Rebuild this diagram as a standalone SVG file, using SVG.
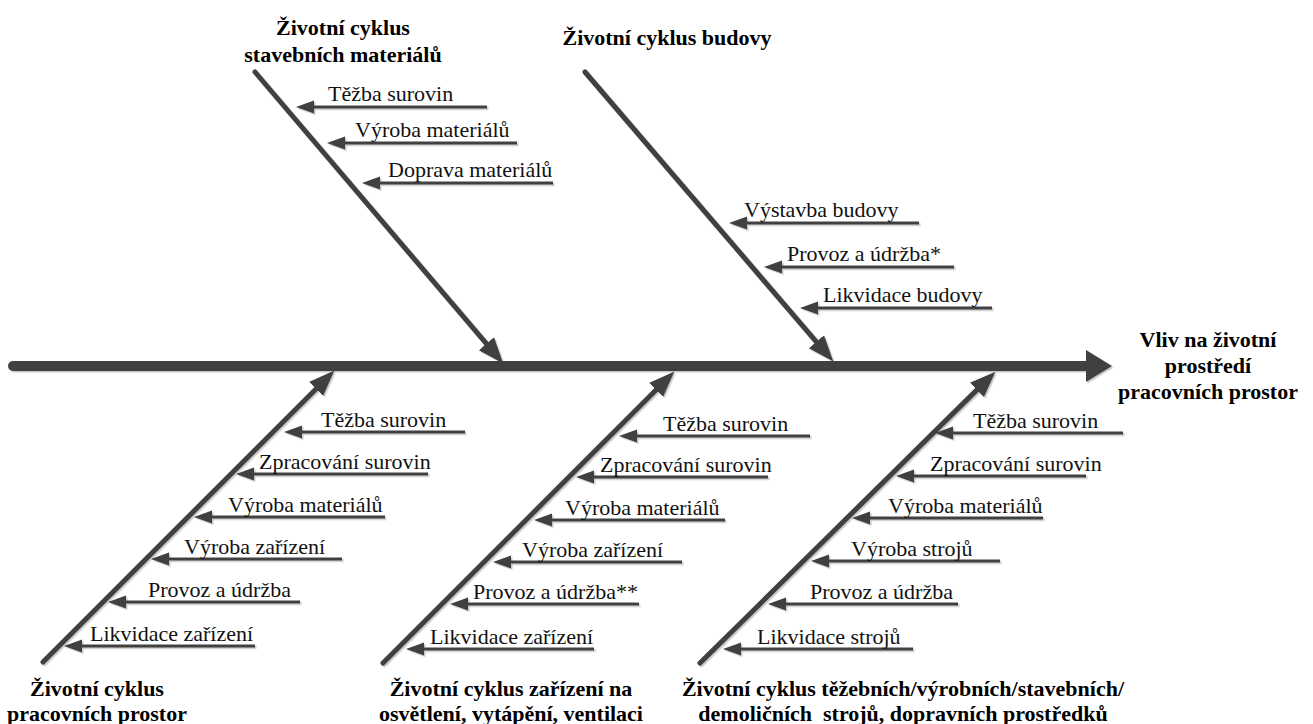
<svg xmlns="http://www.w3.org/2000/svg" width="1313" height="724" viewBox="0 0 1313 724">
  <style>
    .lbl { font-family: "Liberation Serif", "DejaVu Serif", "Noto Serif", "Times New Roman", serif; font-size: 22px; fill: #111; }
    .ttl { font-family: "Liberation Serif", "DejaVu Serif", "Noto Serif", "Times New Roman", serif; font-size: 22px; font-weight: bold; fill: #000; text-anchor: middle; }
    .spine { stroke: #404040; stroke-width: 10; stroke-linecap: round; fill: none; }
    .bone { stroke: #404040; stroke-width: 5; stroke-linecap: round; fill: none; marker-end: url(#boneHead); }
    .twig { stroke: #404040; stroke-width: 3; fill: none; marker-end: url(#twigHead); }
  </style>
  <defs>
    <filter id="shade" x="-5%" y="-5%" width="110%" height="110%">
      <feDropShadow dx="1.5" dy="1.5" stdDeviation="0.6" flood-color="#000" flood-opacity="0.22"/>
    </filter>
    <marker id="boneHead" markerUnits="userSpaceOnUse" markerWidth="30" markerHeight="24" viewBox="0 -12 30 24" refX="0" refY="0" orient="auto">
      <path d="M0,-10 L26,0 L0,10 Z" fill="#404040"/>
    </marker>
    <marker id="twigHead" markerUnits="userSpaceOnUse" markerWidth="22" markerHeight="16" viewBox="0 -8 22 16" refX="1" refY="0" orient="auto">
      <path d="M0,-6.5 L18,0 L0,6.5 Z" fill="#404040"/>
    </marker>
  </defs>
  <rect width="1313" height="724" fill="#fff"/>

  <g id="connectors" filter="url(#shade)">
    <!-- main spine -->
    <line class="spine" x1="13" y1="366" x2="1088" y2="366"/>
    <polygon points="1086,350 1112,366 1086,382" fill="#404040"/>

    <!-- category bones -->
    <line class="bone" x1="255" y1="72" x2="486.4" y2="343.7"/>
    <line class="bone" x1="585" y1="72" x2="816.4" y2="341.8"/>
    <line class="bone" x1="43" y1="662" x2="316" y2="389"/>
    <line class="bone" x1="383" y1="663" x2="656" y2="390"/>
    <line class="bone" x1="700" y1="663" x2="976.9" y2="389.9"/>

    <!-- stavebni materialy -->
    <path class="twig" d="M487,107 H313"/>
    <path class="twig" d="M517,143 H344"/>
    <path class="twig" d="M553,183 H379"/>
    <!-- budova -->
    <path class="twig" d="M919,223 H746"/>
    <path class="twig" d="M954,267 H781"/>
    <path class="twig" d="M992,308 H817"/>
    <!-- pracovni prostory -->
    <path class="twig" d="M465,432 H301"/>
    <path class="twig" d="M428,474 H253"/>
    <path class="twig" d="M385,517 H211"/>
    <path class="twig" d="M342,559 H168"/>
    <path class="twig" d="M300,602 H125"/>
    <path class="twig" d="M255,646 H81"/>
    <!-- zarizeni -->
    <path class="twig" d="M810,436 H636"/>
    <path class="twig" d="M768,477 H593"/>
    <path class="twig" d="M725,520 H551"/>
    <path class="twig" d="M682,562 H510"/>
    <path class="twig" d="M639,604 H467"/>
    <path class="twig" d="M594,649 H423"/>
    <!-- stroje -->
    <path class="twig" d="M1123,433 H952"/>
    <path class="twig" d="M1086,476 H913"/>
    <path class="twig" d="M1043,518 H869"/>
    <path class="twig" d="M1000,561 H828"/>
    <path class="twig" d="M958,604 H785"/>
    <path class="twig" d="M913,649 H740"/>
  </g>

  <!-- effect -->
  <g id="effect">
    <text class="ttl" x="1208" y="347">Vliv na životní</text>
    <text class="ttl" x="1208" y="373">prostředí</text>
    <text class="ttl" x="1208" y="399">pracovních prostor</text>
  </g>

  <!-- category titles -->
  <g id="cat-materialy">
    <text class="ttl" x="343" y="35">Životní cyklus</text>
    <text class="ttl" x="343" y="62">stavebních materiálů</text>
  </g>
  <g id="cat-budova">
    <text class="ttl" x="667" y="45">Životní cyklus budovy</text>
  </g>
  <g id="cat-prostory">
    <text class="ttl" x="97" y="696">Životní cyklus</text>
    <text class="ttl" x="97" y="721">pracovních prostor</text>
  </g>
  <g id="cat-zarizeni">
    <text class="ttl" x="511" y="696">Životní cyklus zařízení na</text>
    <text class="ttl" x="511" y="721">osvětlení, vytápění, ventilaci</text>
  </g>
  <g id="cat-stroje">
    <text class="ttl" x="903" y="696">Životní cyklus těžebních/výrobních/stavebních/</text>
    <text class="ttl" x="903" y="721" xml:space="preserve">demoličních  strojů, dopravních prostředků</text>
  </g>

  <!-- causes: stavebni materialy -->
  <g id="m1"><text class="lbl" x="328" y="101">Těžba surovin</text></g>
  <g id="m2"><text class="lbl" x="355" y="137">Výroba materiálů</text></g>
  <g id="m3"><text class="lbl" x="388" y="177">Doprava materiálů</text></g>

  <!-- causes: budova -->
  <g id="b1"><text class="lbl" x="744" y="217">Výstavba budovy</text></g>
  <g id="b2"><text class="lbl" x="787" y="261">Provoz a údržba*</text></g>
  <g id="b3"><text class="lbl" x="823" y="302">Likvidace budovy</text></g>

  <!-- causes: pracovni prostory -->
  <g id="p1"><text class="lbl" x="321" y="427">Těžba surovin</text></g>
  <g id="p2"><text class="lbl" x="259" y="469">Zpracování surovin</text></g>
  <g id="p3"><text class="lbl" x="228" y="512">Výroba materiálů</text></g>
  <g id="p4"><text class="lbl" x="184" y="554">Výroba zařízení</text></g>
  <g id="p5"><text class="lbl" x="148" y="597">Provoz a údržba</text></g>
  <g id="p6"><text class="lbl" x="90" y="641">Likvidace zařízení</text></g>

  <!-- causes: zarizeni -->
  <g id="z1"><text class="lbl" x="663" y="431">Těžba surovin</text></g>
  <g id="z2"><text class="lbl" x="600" y="472">Zpracování surovin</text></g>
  <g id="z3"><text class="lbl" x="565" y="515">Výroba materiálů</text></g>
  <g id="z4"><text class="lbl" x="522" y="557">Výroba zařízení</text></g>
  <g id="z5"><text class="lbl" x="473" y="599">Provoz a údržba**</text></g>
  <g id="z6"><text class="lbl" x="430" y="644">Likvidace zařízení</text></g>

  <!-- causes: stroje -->
  <g id="s1"><text class="lbl" x="973" y="428">Těžba surovin</text></g>
  <g id="s2"><text class="lbl" x="930" y="471">Zpracování surovin</text></g>
  <g id="s3"><text class="lbl" x="888" y="513">Výroba materiálů</text></g>
  <g id="s4"><text class="lbl" x="851" y="556">Výroba strojů</text></g>
  <g id="s5"><text class="lbl" x="810" y="599">Provoz a údržba</text></g>
  <g id="s6"><text class="lbl" x="757" y="644">Likvidace strojů</text></g>
</svg>
